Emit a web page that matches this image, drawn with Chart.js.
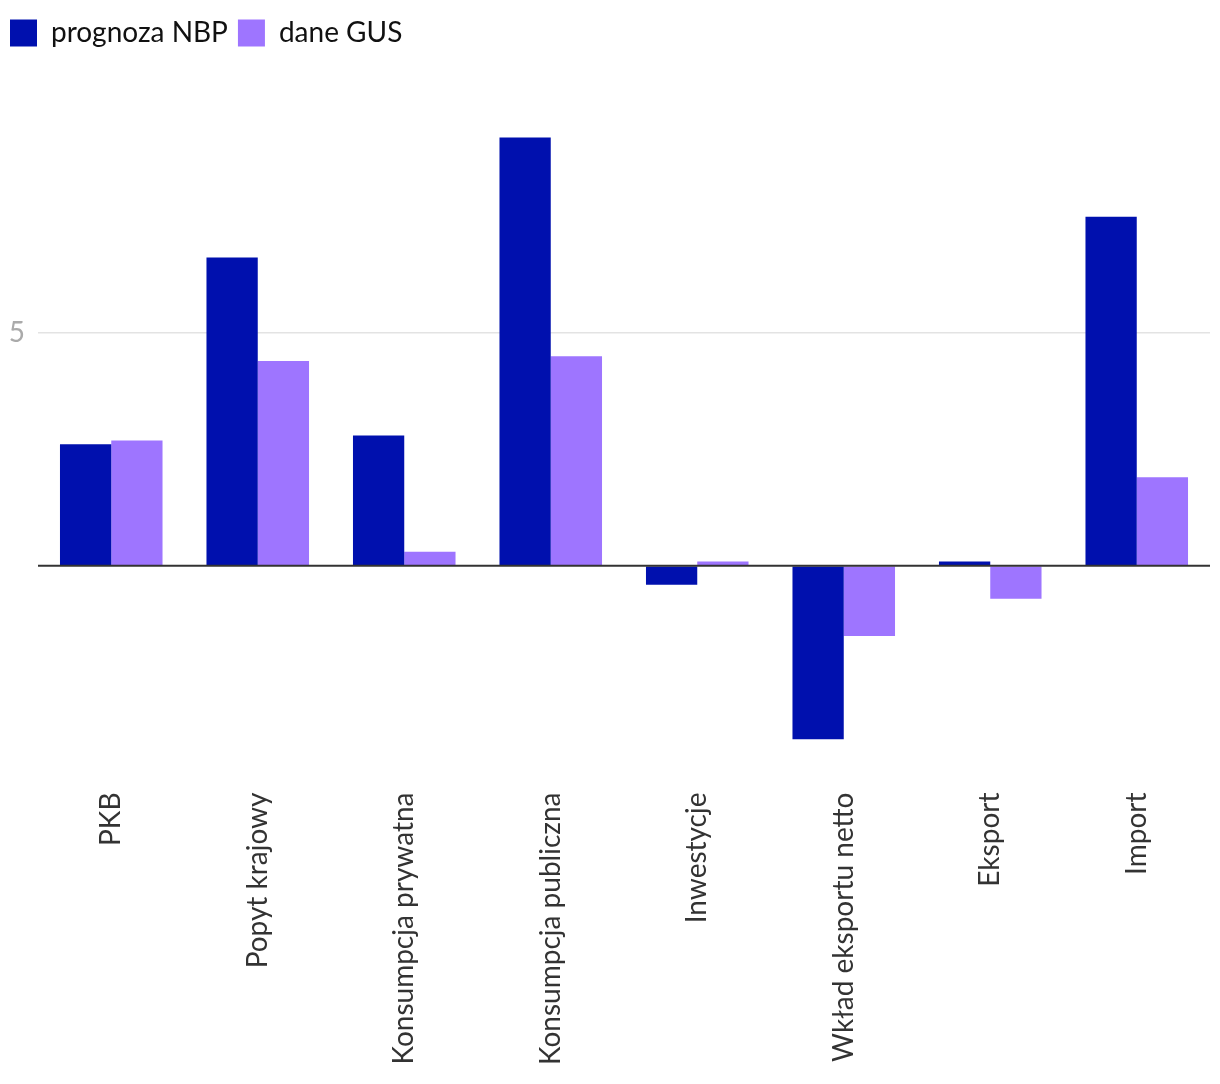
<!DOCTYPE html>
<html>
<head>
<meta charset="utf-8">
<script src="https://cdn.jsdelivr.net/npm/chart.js@4"></script>
<style>
  body { margin: 0; background: #fff; }
</style>
</head>
<body>
<canvas id="chart" width="1220" height="1084"></canvas>
<script>
// dane do wykresu
const categories = ['PKB', 'Popyt krajowy', 'Konsumpcja prywatna', 'Konsumpcja publiczna', 'Inwestycje', 'Wkład eksportu netto', 'Eksport', 'Import'];
const nbpValues = [2.61, 6.62, 2.80, 9.20, -0.41, -3.73, 0.09, 7.50];
const gusValues = [2.69, 4.40, 0.30, 4.50, 0.09, -1.51, -0.71, 1.90];
const yTicks = [0, 5];

// linia zerowa rysowana nad słupkami
const zeroLine = {
    id: 'zeroLine',
    afterDatasetsDraw(chart) {
        const { ctx, chartArea, scales } = chart;
        const y = scales.y.getPixelForValue(0);
        ctx.save();
        ctx.strokeStyle = '#333';
        ctx.lineWidth = 2;
        ctx.beginPath();
        ctx.moveTo(chartArea.left, y);
        ctx.lineTo(chartArea.right, y);
        ctx.stroke();
        ctx.restore();
    }
};

const ctx = document.getElementById('chart').getContext('2d');
new Chart(ctx, {
    type: 'bar',
    data: {
        labels: categories,
        datasets: [{
            label: 'prognoza NBP',
            data: nbpValues,
            backgroundColor: '#0010ae'
        }, {
            label: 'dane GUS',
            data: gusValues,
            backgroundColor: '#9e75ff'
        }]
    },
    plugins: [zeroLine],
    options: {
        responsive: false,
        animation: false,
        layout: { padding: { left: 0, right: 10, top: 9, bottom: 5 } },
        datasets: { bar: { categoryPercentage: 0.7, barPercentage: 1.0 } },
        plugins: {
            legend: {
                position: 'top',
                align: 'start',
                labels: {
                    boxWidth: 27,
                    boxHeight: 27,
                    padding: 10,
                    color: '#111',
                    font: { family: 'Lato', size: 28 }
                }
            },
            tooltip: { enabled: false }
        },
        scales: {
            x: {
                grid: { display: false },
                border: { display: false },
                ticks: {
                    minRotation: 90,
                    maxRotation: 90,
                    padding: 14,
                    color: '#333',
                    font: { family: 'Lato', size: 28 }
                }
            },
            y: {
                min: -4.4,
                max: 10.93,
                afterBuildTicks: (axis) => { axis.ticks = yTicks.map(v => ({ value: v })); },
                afterFit: (axis) => { axis.width = 38; },
                border: { display: false },
                grid: {
                    drawTicks: false,
                    color: (c) => c.tick && c.tick.value === 0 ? 'rgba(0,0,0,0)' : '#e3e3e3',
                    lineWidth: 1.5
                },
                ticks: {
                    padding: 13,
                    color: '#aaa',
                    font: { family: 'Lato', size: 28 },
                    callback: (v) => v === 0 ? '' : v
                }
            }
        }
    }
});
</script>
</body>
</html>
